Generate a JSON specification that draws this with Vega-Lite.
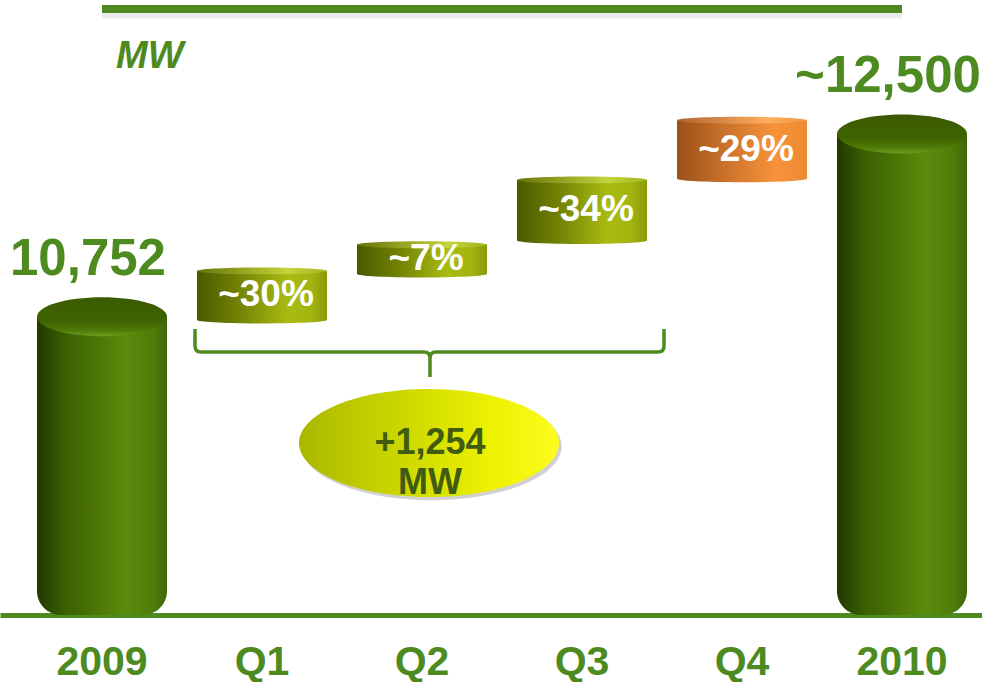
{
  "$schema": "https://vega.github.io/schema/vega-lite/v6.json",
  "width": 982,
  "height": 615,
  "padding": 0,
  "background": "white",
  "config": {"view": {"stroke": null}, "font": "Liberation Sans"},
  "datasets": {
    "totals": [
      {"cat": "2009", "value": 10752, "label": "10,752"},
      {"cat": "2010", "value": 12500, "label": "~12,500"}
    ],
    "steps": [
      {"cat": "Q1", "start": 10720, "end": 11190, "label": "~30%"},
      {"cat": "Q2", "start": 11160, "end": 11440, "label": "~7%"},
      {"cat": "Q3", "start": 11480, "end": 12060, "label": "~34%"},
      {"cat": "Q4", "start": 12070, "end": 12630, "label": "~29%"}
    ],
    "note": [{"cat": "Q2", "value": 9544, "bracket": 10415, "text": ["+1,254", "MW"]}],
    "frame": [{"cat": "2009", "to": "2010", "line": 13694, "shadow": 13645, "unit": "MW", "unitPos": 13130}]
  },
  "encoding": {
    "x": {"field": "cat", "type": "nominal",
      "scale": {"type": "band", "domain": ["2009", "Q1", "Q2", "Q3", "Q4", "2010"], "paddingInner": 0.1875, "paddingOuter": 0.1625, "align": 0.7115},
      "axis": {"title": null, "domainColor": "#4D8A1F", "domainWidth": 5, "ticks": false, "tickSize": 0, "grid": false,
        "labelFont": "Liberation Sans", "labelFontSize": 41, "labelFontWeight": "bold", "labelColor": "#4D8A1F",
        "labelPadding": 59, "labelBaseline": "alphabetic", "labelAngle": 0, "labelOverlap": false, "labelFlush": false}}
  },
  "layer": [
    {
      "data": {"name": "totals"},
      "mark": {
        "type": "bar",
        "cornerRadiusBottomLeft": 24,
        "cornerRadiusBottomRight": 24,
        "fill": {"gradient": "linear", "x1": 0, "y1": 0, "x2": 1, "y2": 0,
          "stops": [
            {"offset": 0, "color": "#213800"},
            {"offset": 0.2, "color": "#3a5e02"},
            {"offset": 0.55, "color": "#527f08"},
            {"offset": 0.68, "color": "#5a8c0c"},
            {"offset": 0.9, "color": "#4e7c08"},
            {"offset": 1, "color": "#3f6606"}
          ]}
      },
      "encoding": {
        "y": {"field": "value", "type": "quantitative", "scale": {"domain": [7900, 13780], "zero": false, "nice": false}, "axis": null},
        "y2": {"datum": 7900}
      }
    },
    {
      "data": {"name": "totals"},
      "mark": {
        "type": "point", "filled": true, "opacity": 1, "strokeWidth": 0, "size": 16900,
        "shape": "M-1,0C-1,-0.1657,-0.5523,-0.3,0,-0.3C0.5523,-0.3,1,-0.1657,1,0C1,0.1657,0.5523,0.3,0,0.3C-0.5523,0.3,-1,0.1657,-1,0Z",
        "fill": {"gradient": "linear", "x1": 0, "y1": 0, "x2": 0, "y2": 1,
          "stops": [
            {"offset": 0, "color": "#3a5a00"},
            {"offset": 0.6, "color": "#3f6300"},
            {"offset": 0.85, "color": "#4f7a08"},
            {"offset": 1, "color": "#6c9c1c"}
          ]}
      },
      "encoding": {
        "y": {"field": "value", "type": "quantitative", "scale": {"domain": [7900, 13780], "zero": false, "nice": false}, "axis": null}
      }
    },
    {
      "data": {"name": "totals"},
      "mark": {"type": "text", "fontSize": 51, "fontWeight": "bold", "color": "#4D8A1F", "baseline": "alphabetic", "align": "center", "dy": -42, "dx": -14},
      "encoding": {
        "y": {"field": "value", "type": "quantitative", "scale": {"domain": [7900, 13780], "zero": false, "nice": false}, "axis": null},
        "text": {"field": "label", "type": "nominal"}
      }
    },
    {
      "data": {"name": "steps"},
      "mark": {"type": "point", "filled": true, "opacity": 1, "strokeWidth": 0, "size": 16900,
        "shape": "M-1,0C-1,-0.0293,-0.5523,-0.053,0,-0.053C0.5523,-0.053,1,-0.0293,1,0C1,0.0293,0.5523,0.053,0,0.053C-0.5523,0.053,-1,0.0293,-1,0Z"},
      "encoding": {
        "y": {"field": "start", "type": "quantitative", "scale": {"domain": [7900, 13780], "zero": false, "nice": false}, "axis": null},
        "fill": {
          "condition": {"test": "datum.cat === 'Q4'", "value": {"gradient": "linear", "x1": 0, "y1": 0, "x2": 1, "y2": 0, "stops": [{"offset": 0, "color": "#9a5018"}, {"offset": 0.35, "color": "#c8702a"}, {"offset": 0.75, "color": "#f7923a"}, {"offset": 1, "color": "#ec8a32"}]}},
          "value": {"gradient": "linear", "x1": 0, "y1": 0, "x2": 1, "y2": 0, "stops": [{"offset": 0, "color": "#4c5a00"}, {"offset": 0.3, "color": "#6f7f04"}, {"offset": 0.7, "color": "#a9bc12"}, {"offset": 0.88, "color": "#a2b410"}, {"offset": 1, "color": "#8a9a08"}]}
        }
      }
    },
    {
      "data": {"name": "steps"},
      "mark": {"type": "bar"},
      "encoding": {
        "y": {"field": "end", "type": "quantitative", "scale": {"domain": [7900, 13780], "zero": false, "nice": false}, "axis": null},
        "y2": {"field": "start"},
        "fill": {
          "condition": {"test": "datum.cat === 'Q4'", "value": {"gradient": "linear", "x1": 0, "y1": 0, "x2": 1, "y2": 0, "stops": [{"offset": 0, "color": "#9a5018"}, {"offset": 0.35, "color": "#c8702a"}, {"offset": 0.75, "color": "#f7923a"}, {"offset": 1, "color": "#ec8a32"}]}},
          "value": {"gradient": "linear", "x1": 0, "y1": 0, "x2": 1, "y2": 0, "stops": [{"offset": 0, "color": "#4c5a00"}, {"offset": 0.3, "color": "#6f7f04"}, {"offset": 0.7, "color": "#a9bc12"}, {"offset": 0.88, "color": "#a2b410"}, {"offset": 1, "color": "#8a9a08"}]}
        }
      }
    },
    {
      "data": {"name": "steps"},
      "mark": {"type": "point", "filled": true, "opacity": 1, "strokeWidth": 0, "size": 16900,
        "shape": "M-1,0C-1,-0.0293,-0.5523,-0.053,0,-0.053C0.5523,-0.053,1,-0.0293,1,0C1,0.0293,0.5523,0.053,0,0.053C-0.5523,0.053,-1,0.0293,-1,0Z"},
      "encoding": {
        "y": {"field": "end", "type": "quantitative", "scale": {"domain": [7900, 13780], "zero": false, "nice": false}, "axis": null},
        "fill": {
          "condition": {"test": "datum.cat === 'Q4'", "value": {"gradient": "linear", "x1": 0, "y1": 0, "x2": 1, "y2": 0, "stops": [{"offset": 0, "color": "#b06430"}, {"offset": 0.7, "color": "#ffae60"}, {"offset": 1, "color": "#f09a40"}]}},
          "value": {"gradient": "linear", "x1": 0, "y1": 0, "x2": 1, "y2": 0, "stops": [{"offset": 0, "color": "#66740a"}, {"offset": 0.7, "color": "#c4d43a"}, {"offset": 1, "color": "#a4b420"}]}
        }
      }
    },
    {
      "data": {"name": "steps"},
      "transform": [{"fold": ["start", "end"], "as": ["edge", "v"]}],
      "mark": {"type": "text", "fontSize": 37, "fontWeight": "bold", "color": "white", "baseline": "middle", "align": "center", "dx": 4},
      "encoding": {
        "y": {"aggregate": "mean", "field": "v", "type": "quantitative", "scale": {"domain": [7900, 13780], "zero": false, "nice": false}, "axis": null},
        "text": {"field": "label", "type": "nominal"}
      }
    },
    {
      "data": {"name": "frame"},
      "mark": {"type": "rule", "strokeWidth": 9, "color": "#d8d8d8", "opacity": 0.5},
      "encoding": {
        "x2": {"field": "to"},
        "y": {"field": "shadow", "type": "quantitative", "scale": {"domain": [7900, 13780], "zero": false, "nice": false}, "axis": null}
      }
    },
    {
      "data": {"name": "frame"},
      "mark": {"type": "rule", "strokeWidth": 8, "color": "#4E8A20"},
      "encoding": {
        "x2": {"field": "to"},
        "y": {"field": "line", "type": "quantitative", "scale": {"domain": [7900, 13780], "zero": false, "nice": false}, "axis": null}
      }
    },
    {
      "data": {"name": "frame"},
      "mark": {"type": "text", "fontSize": 38, "fontWeight": "bold", "fontStyle": "italic", "color": "#4E8A20", "baseline": "alphabetic", "align": "left", "dx": 14},
      "encoding": {
        "y": {"field": "unitPos", "type": "quantitative", "scale": {"domain": [7900, 13780], "zero": false, "nice": false}, "axis": null},
        "text": {"field": "unit", "type": "nominal"}
      }
    },
    {
      "data": {"name": "note"},
      "mark": {"type": "point", "filled": false, "opacity": 1, "strokeWidth": 3.5, "color": "#4D8A1F", "size": 250000,
        "shape": "M-0.908,-0.092L-0.908,-0.024Q-0.908,0,-0.884,0L0.008,0Q0.032,0,0.032,0.024L0.032,0.1M0.032,0.024Q0.032,0,0.056,0L0.944,0Q0.968,0,0.968,-0.024L0.968,-0.092"},
      "encoding": {
        "y": {"field": "bracket", "type": "quantitative", "scale": {"domain": [7900, 13780], "zero": false, "nice": false}, "axis": null}
      }
    },
    {
      "data": {"name": "note"},
      "mark": {"type": "point", "filled": true, "opacity": 0.45, "strokeWidth": 0, "size": 67600, "fill": "#9a9a9a",
        "shape": "M-0.926,0.025C-0.926,-0.2042,-0.4783,-0.39,0.074,-0.39C0.6263,-0.39,1.074,-0.2042,1.074,0.025C1.074,0.2542,0.6263,0.44,0.074,0.44C-0.4783,0.44,-0.926,0.2542,-0.926,0.025Z"},
      "encoding": {
        "y": {"field": "value", "type": "quantitative", "scale": {"domain": [7900, 13780], "zero": false, "nice": false}, "axis": null}
      }
    },
    {
      "data": {"name": "note"},
      "mark": {"type": "point", "filled": true, "opacity": 1, "strokeWidth": 0, "size": 67600,
        "shape": "M-0.946,0C-0.946,-0.2292,-0.4983,-0.415,0.054,-0.415C0.6063,-0.415,1.054,-0.2292,1.054,0C1.054,0.2292,0.6063,0.415,0.054,0.415C-0.4983,0.415,-0.946,0.2292,-0.946,0Z",
        "fill": {"gradient": "linear", "x1": 0, "y1": 0, "x2": 1, "y2": 0,
          "stops": [
            {"offset": 0, "color": "#a9b800"},
            {"offset": 0.35, "color": "#c8d400"},
            {"offset": 0.75, "color": "#eef200"},
            {"offset": 1, "color": "#fcfc20"}
          ]}},
      "encoding": {
        "y": {"field": "value", "type": "quantitative", "scale": {"domain": [7900, 13780], "zero": false, "nice": false}, "axis": null}
      }
    },
    {
      "data": {"name": "note"},
      "mark": {"type": "text", "fontSize": 36, "fontWeight": "bold", "color": "#3f5c10", "baseline": "middle", "align": "center", "lineHeight": 40, "dx": 8},
      "encoding": {
        "y": {"field": "value", "type": "quantitative", "scale": {"domain": [7900, 13780], "zero": false, "nice": false}, "axis": null},
        "text": {"field": "text"}
      }
    }
  ]
}
